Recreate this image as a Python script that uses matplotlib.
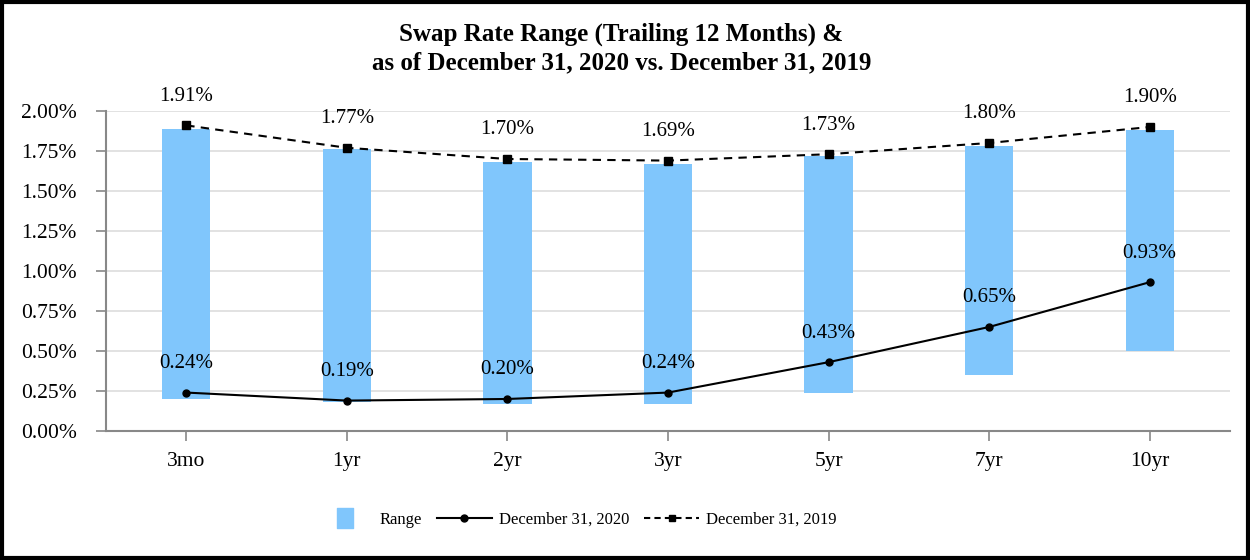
import matplotlib
matplotlib.use("Agg")
import matplotlib.pyplot as plt
from matplotlib.lines import Line2D
from matplotlib.patches import Rectangle
from matplotlib.path import Path
from matplotlib.ticker import PercentFormatter

plt.rcParams['font.family'] = ['Liberation Serif', 'DejaVu Serif']

tenors = ["3mo", "1yr", "2yr", "3yr", "5yr", "7yr", "10yr"]
range_low = [0.20, 0.18, 0.17, 0.17, 0.24, 0.35, 0.50]
range_high = [1.89, 1.76, 1.68, 1.67, 1.72, 1.78, 1.88]
rate_2020 = [0.24, 0.19, 0.20, 0.24, 0.43, 0.65, 0.93]
rate_2019 = [1.91, 1.77, 1.70, 1.69, 1.73, 1.80, 1.90]

bar_color = '#80c6fc'

fig = plt.figure(figsize=(12.5, 5.6), dpi=100)
ax = fig.add_axes([0.0848, 0.2304, 0.8992, 0.5714])

x = list(range(len(tenors)))
heights = [h - l for h, l in zip(range_high, range_low)]
ax.bar(x, heights, bottom=range_low, width=0.3, color=bar_color, zorder=2)
ax.plot(x, rate_2020, color='black', lw=1.5, marker='o', ms=5, zorder=3)
ax.plot(x, rate_2019, color='black', lw=1.5, ls=(0, (4, 3)), marker='s', ms=5.5, zorder=3)

for i in x:
    ax.annotate(f"{rate_2020[i]:.2f}%", (i, rate_2020[i]), xytext=(0, 21),
                textcoords='offset points', ha='center', va='center', fontsize=15)
    ax.annotate(f"{rate_2019[i]:.2f}%", (i, rate_2019[i]), xytext=(0, 21),
                textcoords='offset points', ha='center', va='center', fontsize=15)

ax.set_xlim(-0.5, len(tenors) - 0.5)
ax.set_ylim(0, 2.0)
ax.set_yticks([i * 0.25 for i in range(9)])
ax.yaxis.set_major_formatter(PercentFormatter(decimals=2))
ax.set_xticks(x)
ax.set_xticklabels(tenors)
ax.tick_params(axis='both', labelsize=15.5, color='#888888', length=7, width=1.2)
ax.tick_params(axis='x', pad=8)
ax.tick_params(axis='y', pad=14)
ax.grid(axis='y', color='#dddddd', lw=1.2, zorder=0)
ax.set_axisbelow(True)
for side in ['top', 'right']:
    ax.spines[side].set_visible(False)
for side in ['left', 'bottom']:
    ax.spines[side].set_color('#888888')
    ax.spines[side].set_linewidth(1.5)

fig.text(0.497, 0.913, "Swap Rate Range (Trailing 12 Months) &\nas of December 31, 2020 vs. December 31, 2019",
         ha='center', va='center', fontsize=18, fontweight='bold', linespacing=1.3)

rect_marker = Path([(-0.375, -0.5), (0.375, -0.5), (0.375, 0.5), (-0.375, 0.5), (-0.375, -0.5)],
                   [Path.MOVETO, Path.LINETO, Path.LINETO, Path.LINETO, Path.CLOSEPOLY])
handles = [
    Line2D([], [], ls='none', marker=rect_marker, ms=14.5, color=bar_color, mec=bar_color),
    Line2D([], [], color='black', lw=1.5, marker='o', ms=5),
    Line2D([], [], color='black', lw=1.5, ls=(0, (3, 2)), marker='s', ms=5),
]
fig.legend(handles, ["Range", "December 31, 2020", "December 31, 2019"],
           loc='center', bbox_to_anchor=(0.4616, 0.0714), ncol=3, frameon=False,
           fontsize=12, handlelength=3.3, handletextpad=0.42, columnspacing=0.9)

fig.patches.append(Rectangle((0.0015, 0.003), 0.997, 0.994, transform=fig.transFigure,
                             fill=False, edgecolor='black', lw=3))

fig.savefig('out.png', dpi=100)
